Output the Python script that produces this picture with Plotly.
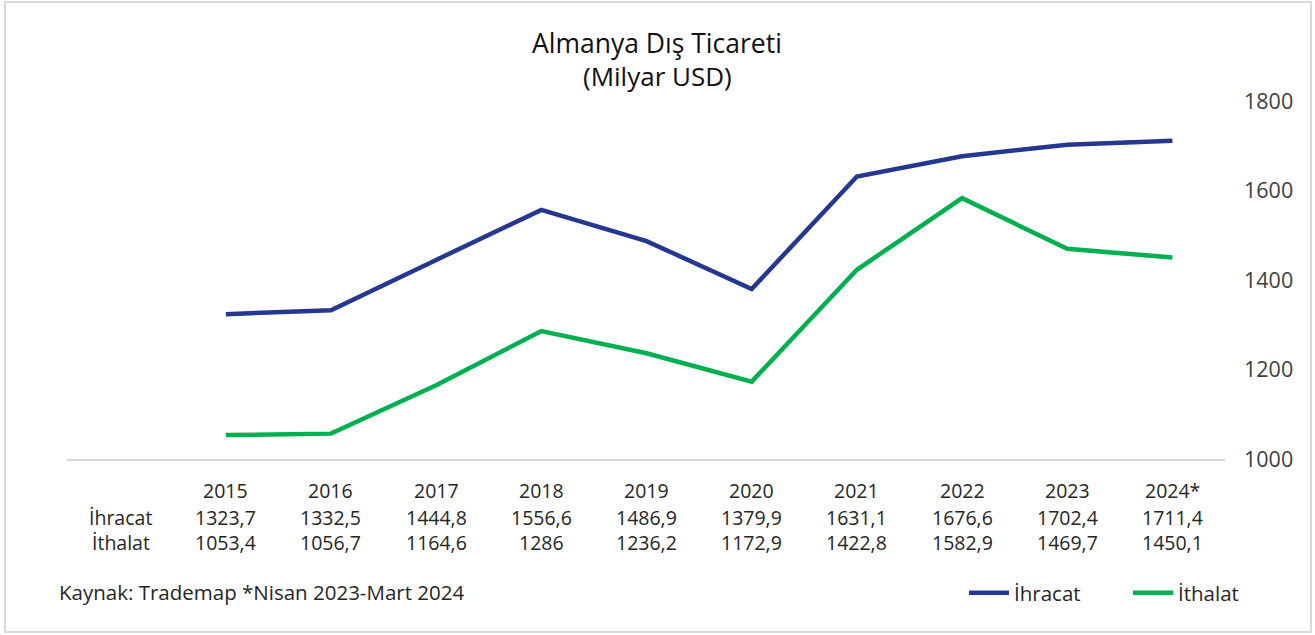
import plotly.graph_objects as go

years = ["2015", "2016", "2017", "2018", "2019", "2020", "2021", "2022", "2023", "2024*"]
ihracat = [1323.7, 1332.5, 1444.8, 1556.6, 1486.9, 1379.9, 1631.1, 1676.6, 1702.4, 1711.4]
ithalat = [1053.4, 1056.7, 1164.6, 1286.0, 1236.2, 1172.9, 1422.8, 1582.9, 1469.7, 1450.1]
series_names = ["İhracat", "İthalat"]
y_ticks = [1000, 1200, 1400, 1600, 1800]

FONT = "Open Sans"
TXT = "#262626"
BLUE = "#26378f"
GREEN = "#00b050"

W, H = 1315, 635
AX_L, AX_R, AX_T, AX_B = 67, 1225, 101, 459
L, R, T, B = AX_L, W - AX_R, AX_T, H - AX_B
plot_h = AX_B - AX_T
plot_w = AX_R - AX_L

def py(pix):
    return (AX_B - pix) / plot_h

def px(pix):
    return (pix - AX_L) / plot_w

xs = list(range(len(years)))

fig = go.Figure()
fig.add_trace(go.Scatter(x=xs, y=ihracat, mode="lines", name=series_names[0],
                         line=dict(color=BLUE, width=4.5)))
fig.add_trace(go.Scatter(x=xs, y=ithalat, mode="lines", name=series_names[1],
                         line=dict(color=GREEN, width=4.5)))

def fmt(v):
    return f"{v:g}".replace(".", ",")

TS = 19.5
def txt(x, y, text, size, xref="x", xanchor="center", color=TXT):
    return dict(x=x, y=y, xref=xref, yref="paper", text=text, showarrow=False,
                xanchor=xanchor, yanchor="middle",
                font=dict(family=FONT, size=size, color=color))

ann = []
for i, yr in enumerate(years):
    ann.append(txt(i, py(490), yr, TS))
    ann.append(txt(i, py(517), fmt(ihracat[i]), TS))
    ann.append(txt(i, py(542), fmt(ithalat[i]), TS))
ann.append(txt(-1, py(517), series_names[0], TS))
ann.append(txt(-1, py(542), series_names[1], TS))
ann.append(txt(px(657), py(43), "Almanya Dış Ticareti", 26.5, xref="paper", color="#111111"))
ann.append(txt(px(657), py(76), "(Milyar USD)", 26, xref="paper", color="#111111"))
ann.append(txt(px(57), py(592), "Kaynak: Trademap *Nisan 2023-Mart 2024", 20.5,
               xref="paper", xanchor="left"))

fig.update_layout(
    width=W, height=H,
    margin=dict(l=L, r=R, t=T, b=B, autoexpand=False),
    paper_bgcolor="white", plot_bgcolor="white",
    font=dict(family=FONT, color=TXT),
    annotations=ann,
    showlegend=True,
    legend=dict(orientation="h", x=px(964), y=py(593), yanchor="middle", xanchor="left",
                font=dict(family=FONT, size=20.5, color=TXT), itemwidth=40,
                entrywidth=109, entrywidthmode="pixels",
                bgcolor="rgba(0,0,0,0)", tracegroupgap=0),
    shapes=[dict(type="rect", xref="paper", yref="paper",
                 x0=px(5), x1=px(1311), y0=py(632), y1=py(2),
                 line=dict(color="#d9d9d9", width=2), layer="below")],
)
fig.update_xaxes(range=[-1.51, 9.5], showgrid=False, zeroline=False, showticklabels=False,
                 showline=True, linecolor="#d9d9d9", linewidth=2, ticks="")
fig.update_yaxes(range=[1000, 1800], side="right", tickvals=y_ticks, showgrid=False,
                 zeroline=False, showline=False, ticks="", ticklabelstandoff=18,
                 tickfont=dict(family=FONT, size=21.5, color="#404040"))

fig.write_html("out.html", config={"displayModeBar": False},
               post_script="document.body.style.margin='0';")
